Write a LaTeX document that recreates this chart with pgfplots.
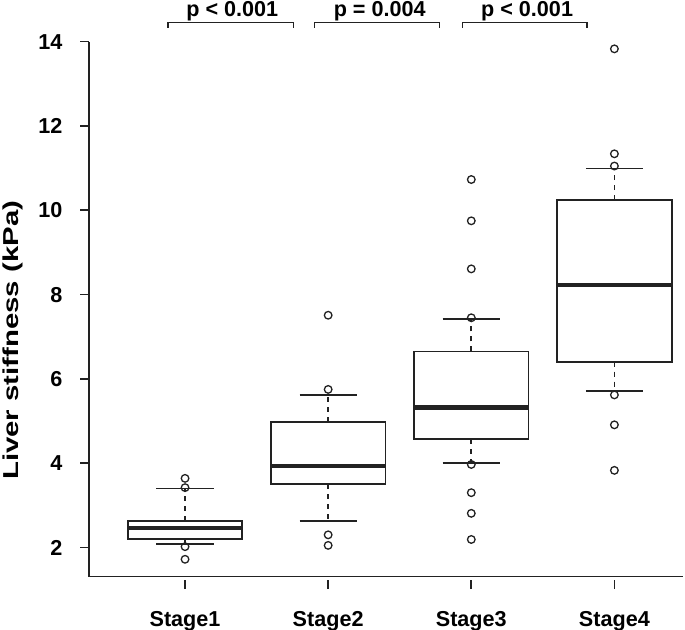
\documentclass[border=0pt]{standalone}
\usepackage{fontspec}
\setmainfont{Liberation Sans}
\usepackage{pgfplots}
\pgfplotsset{compat=1.18}
\usepgfplotslibrary{statistics}

\definecolor{ink}{HTML}{222222}

\pgfplotsset{
  rbox/.style={
    draw=ink, line width=0.9pt, solid,
    mark=o, mark size=1.9pt, mark options={solid, line width=0.65pt, draw=ink},
    boxplot/draw direction=y,
    boxplot/box extend=0.8,
    boxplot/whisker extend=0.4,
    boxplot/every median/.style={line width=2.1pt},
    boxplot/draw/lower whisker/.code={
      \draw[ink, line width=0.9pt, dash pattern=on 2.5pt off 2.5pt]
        (boxplot cs:\pgfplotsboxplotvalue{lower quartile}) --
        (boxplot cs:\pgfplotsboxplotvalue{lower whisker});
      \draw[ink, line width=0.9pt]
        (boxplot whisker cs:\pgfplotsboxplotvalue{lower whisker},0) --
        (boxplot whisker cs:\pgfplotsboxplotvalue{lower whisker},1);
    },
    boxplot/draw/upper whisker/.code={
      \draw[ink, line width=0.9pt, dash pattern=on 2.5pt off 2.5pt]
        (boxplot cs:\pgfplotsboxplotvalue{upper quartile}) --
        (boxplot cs:\pgfplotsboxplotvalue{upper whisker});
      \draw[ink, line width=0.9pt]
        (boxplot whisker cs:\pgfplotsboxplotvalue{upper whisker},0) --
        (boxplot whisker cs:\pgfplotsboxplotvalue{upper whisker},1);
    },
  },
}

\newcommand{\lab}{\bfseries\fontsize{10.8}{12}\selectfont}

\begin{document}
\begin{tikzpicture}
\useasboundingbox (-44.65pt,-26.65pt) rectangle (297.85pt,288.35pt);
\begin{axis}[
  at={(0,0)}, anchor=south west,
  scale only axis, width=296.9pt, height=267.5pt,
  xmin=0.331, xmax=4.48, ymin=1.307, ymax=14,
  axis x line*=bottom, axis y line*=left,
  axis line style={ink, line width=0.8pt, -},
  xtick={1,2,3,4}, xticklabels={Stage1,Stage2,Stage3,Stage4},
  ytick={2,4,6,8,10,12,14},
  tick align=outside, major tick length=4.6pt,
  tick style={ink, line width=0.8pt},
  xtick style={yshift=-1.6pt},
  /pgf/number format/assume math mode=true,
  ticklabel style={font=\lab, text=black},
  yticklabel style={inner sep=0pt, xshift=-8.6pt},
  xticklabel style={inner sep=0pt, yshift=-12.5pt},
  ylabel={\scalebox{1.36}[1]{Liver stiffness (kPa)}},
  ylabel style={font=\lab, at={(axis description cs:-0.1287,0.442)}, anchor=center},
  clip=false,
]
% Stage1
\addplot[rbox, boxplot prepared={draw position=1,
  lower whisker=2.08, lower quartile=2.21, median=2.46,
  upper quartile=2.63, upper whisker=3.40}]
  coordinates {(1,3.64) (1,3.42) (1,2.02) (1,1.72)};
% Stage2
\addplot[rbox, boxplot prepared={draw position=2,
  lower whisker=2.63, lower quartile=3.50, median=3.94,
  upper quartile=4.98, upper whisker=5.62}]
  coordinates {(2,7.51) (2,5.75) (2,2.30) (2,2.05)};
% Stage3
\addplot[rbox, boxplot prepared={draw position=3,
  lower whisker=4.00, lower quartile=4.57, median=5.32,
  upper quartile=6.65, upper whisker=7.43}]
  coordinates {(3,10.73) (3,9.75) (3,8.61) (3,7.45) (3,3.97) (3,3.30) (3,2.81) (3,2.19)};
% Stage4
\addplot[rbox, boxplot prepared={draw position=4,
  lower whisker=5.71, lower quartile=6.41, median=8.22,
  upper quartile=10.24, upper whisker=10.99}]
  coordinates {(4,13.83) (4,11.34) (4,11.05) (4,5.62) (4,4.91) (4,3.83)};

% significance brackets
\draw[ink, line width=0.8pt] (axis cs:0.879,14.33) -- (axis cs:0.879,14.46) -- (axis cs:1.757,14.46) -- (axis cs:1.757,14.33);
\draw[ink, line width=0.8pt] (axis cs:1.904,14.33) -- (axis cs:1.904,14.46) -- (axis cs:2.777,14.46) -- (axis cs:2.777,14.33);
\draw[ink, line width=0.8pt] (axis cs:2.940,14.33) -- (axis cs:2.940,14.46) -- (axis cs:3.810,14.46) -- (axis cs:3.810,14.33);
\node[font=\lab, anchor=base, inner sep=0pt] at (axis cs:1.33,14.593) {p < 0.001};
\node[font=\lab, anchor=base, inner sep=0pt] at (axis cs:2.36,14.593) {p = 0.004};
\node[font=\lab, anchor=base, inner sep=0pt] at (axis cs:3.39,14.593) {p < 0.001};
\end{axis}
\end{tikzpicture}
\end{document}
